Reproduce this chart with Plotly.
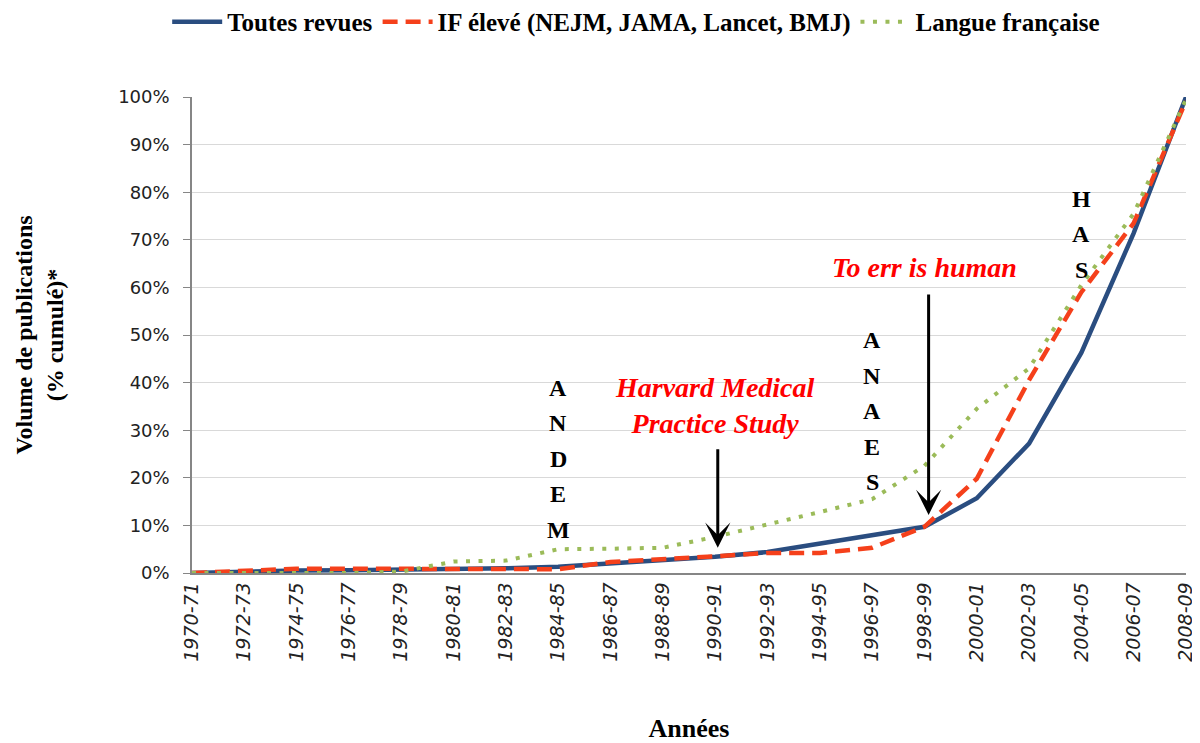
import plotly.graph_objects as go

# periods (two-year bins)
periodes = [
    "1970-71", "1972-73", "1974-75", "1976-77", "1978-79",
    "1980-81", "1982-83", "1984-85", "1986-87", "1988-89",
    "1990-91", "1992-93", "1994-95", "1996-97", "1998-99",
    "2000-01", "2002-03", "2004-05", "2006-07", "2008-09",
]

# cumulative % of publications
toutes_revues = [0, 0.3, 0.5, 0.6, 0.7, 0.9, 1.0, 1.3, 2.0, 2.6,
                 3.4, 4.4, 6.2, 7.8, 9.7, 15.7, 27.2, 46.3, 71.4, 100]
if_eleve = [0, 0.4, 0.9, 0.9, 0.9, 0.9, 0.9, 0.8, 2.3, 2.8,
            3.5, 4.2, 4.2, 5.3, 9.7, 19.8, 40.5, 59.0, 73.5, 99.2]
langue_francaise = [0, 0, 0, 0, 0.3, 2.4, 2.6, 5.0, 5.1, 5.3,
                    7.6, 10.1, 12.8, 15.5, 22.5, 34.5, 43.0, 60.5, 75.5, 99.5]

# vertical acronyms: (letters, x index, y of first letter)
sigles = [("ANDEM", 7, 38.9), ("ANAES", 13, 48.9), ("HAS", 17, 78.6)]
pas_lettre = 7.45

serif = "Liberation Serif, Times New Roman, serif"

fig = go.Figure()
fig.add_trace(go.Scatter(x=list(range(len(periodes))), y=toutes_revues, mode="lines",
                         name="Toutes revues",
                         line=dict(color="#2A4D80", width=4.5)))
fig.add_trace(go.Scatter(x=list(range(len(periodes))), y=if_eleve, mode="lines",
                         name="IF élevé (NEJM, JAMA, Lancet, BMJ)",
                         line=dict(color="#F5401B", width=4.5, dash="15px,8px")))
fig.add_trace(go.Scatter(x=list(range(len(periodes))), y=langue_francaise, mode="lines",
                         name="Langue française",
                         line=dict(color="#9BBB59", width=4, dash="4px,8.5px")))

for mot, xi, y0 in sigles:
    for k, lettre in enumerate(mot):
        fig.add_annotation(x=xi, y=y0 - k * pas_lettre, text=lettre, showarrow=False,
                           font=dict(family=serif, size=24, color="black", weight="bold"))

fig.add_annotation(x=10, y=35.2, text="Harvard Medical<br>Practice Study", showarrow=False,
                   font=dict(family=serif, size=28, color="#FF0000", weight="bold", style="italic"))
fig.add_annotation(x=14, y=64.1, text="To err is human", showarrow=False,
                   font=dict(family=serif, size=28, color="#FF0000", weight="bold", style="italic"))

# arrows
fig.add_annotation(x=10.05, y=5.3, ax=0, ay=-100, text="", showarrow=True,
                   arrowhead=3, arrowsize=1.4, arrowwidth=3, arrowcolor="black")
fig.add_annotation(x=14.08, y=12.2, ax=0, ay=-222, text="", showarrow=True,
                   arrowhead=3, arrowsize=1.4, arrowwidth=3, arrowcolor="black")

fig.update_layout(
    width=1192,
    height=735,
    margin=dict(l=184, r=14, t=89, b=170, autoexpand=False),
    plot_bgcolor="white",
    paper_bgcolor="white",
    showlegend=True,
    legend=dict(orientation="h", xref="container", yref="container",
                x=0.527, xanchor="center", y=0.981, yanchor="middle",
                font=dict(family=serif, size=25, color="black", weight="bold"),
                itemwidth=50),
)
fig.update_xaxes(
    type="linear",
    range=[0, 19],
    tickmode="array",
    tickvals=list(range(len(periodes))),
    ticktext=periodes,
    tickangle=-90,
    tickfont=dict(family="DejaVu Sans", size=19, color="#222", style="italic"),
    showline=True, linecolor="#868686", linewidth=1.5,
    showgrid=False, zeroline=False, ticks="",
    title=dict(text="Années", standoff=60,
               font=dict(family=serif, size=26, color="black", weight="bold")),
)
fig.update_yaxes(
    range=[0, 100],
    dtick=10,
    ticksuffix="%",
    tickfont=dict(family="DejaVu Sans", size=18, color="#222"),
    ticklabelstandoff=10,
    showline=True, linecolor="#868686", linewidth=1.5,
    ticks="outside", ticklen=7, tickcolor="#868686",
    showgrid=True, gridcolor="#D9D9D9", gridwidth=1, zeroline=False,
    title=dict(text="Volume de publications<br>(% cumulé)*", standoff=48,
               font=dict(family=serif, size=24, color="black", weight="bold")),
)

fig.write_html("out.html")
